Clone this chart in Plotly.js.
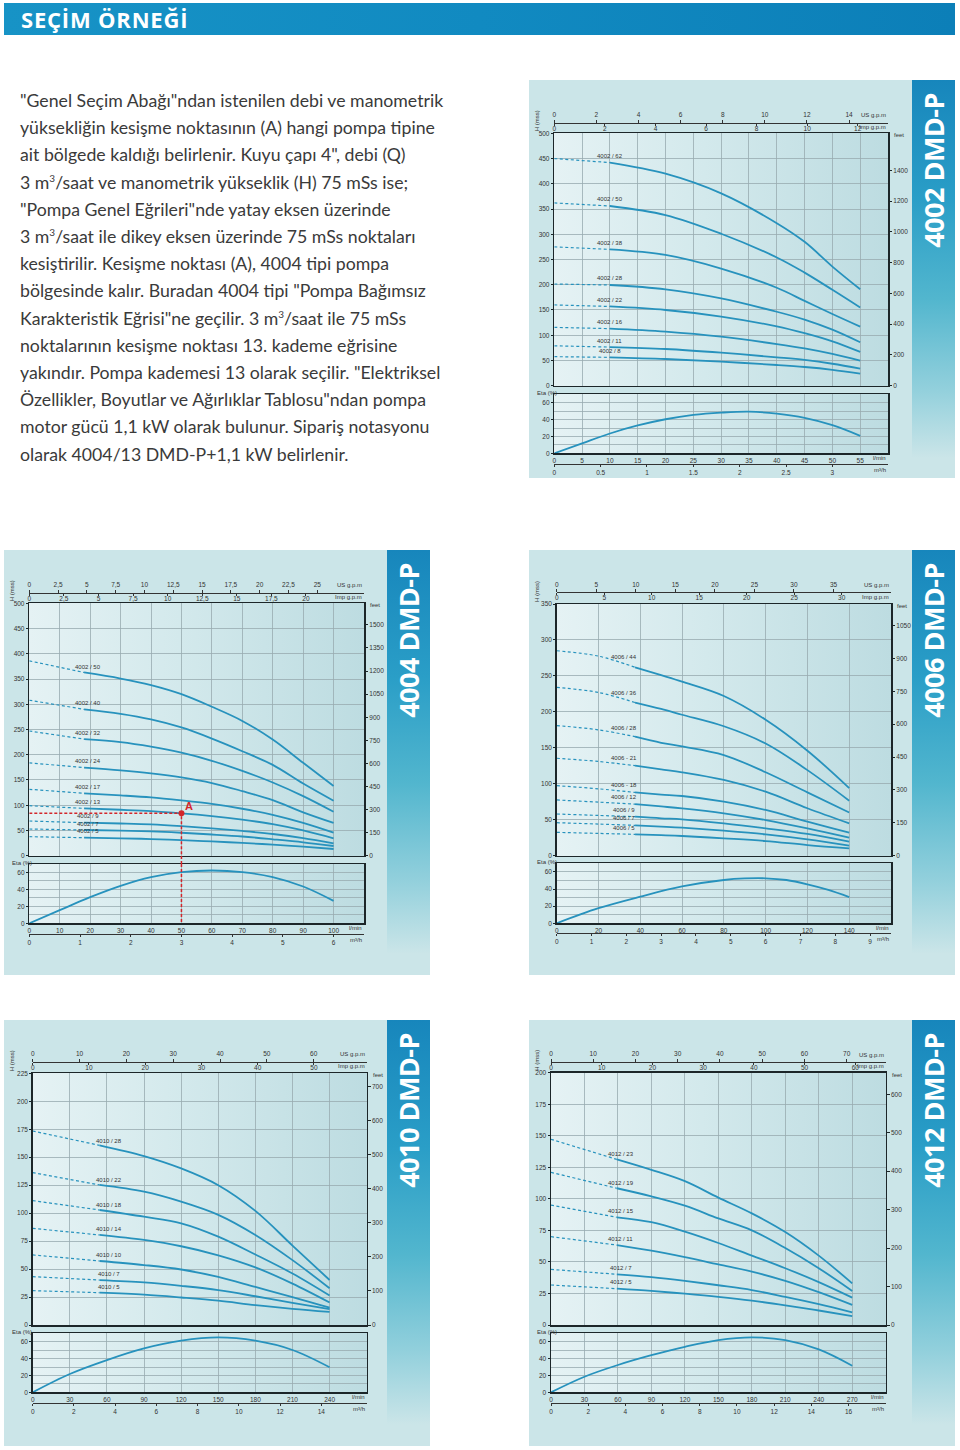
<!DOCTYPE html>
<html lang="tr">
<head>
<meta charset="utf-8">
<title>Seçim Örneği</title>
<script src="https://cdn.plot.ly/plotly-3.0.1.min.js"></script>
<style>
html,body{margin:0;padding:0;background:#fff;}
body{width:960px;height:1450px;position:relative;overflow:hidden;}
#hdr{position:absolute;left:4px;top:3px;width:951px;height:32px;background:linear-gradient(90deg,#1793c6 0%,#118ac1 50%,#0c7fb8 100%);}
#hdr span{position:absolute;left:17px;top:2px;font:700 22px 'Open Sans',sans-serif;letter-spacing:0.8px;color:#fff;line-height:28px;}
#txt{position:absolute;left:20px;top:87px;font:400 17.7px Lato,sans-serif;line-height:27.2px;color:#3a3a3a;white-space:nowrap;}
#txt sup{font-size:10px;vertical-align:7px;line-height:0;}
.panel{position:absolute;background:#cbe5e8;}
.strip{position:absolute;top:0;width:43px;background:linear-gradient(180deg,#1786bc 0%,#2a9ec7 30%,#52b6ce 55%,#93d0dc 78%,#cbe5e8 95%);}
.strip span{position:absolute;left:21.5px;top:13px;transform-origin:0 0;transform:rotate(-90deg) translate(-100%,-50%);white-space:nowrap;font:700 27px 'Open Sans',sans-serif;color:#fff;letter-spacing:-0.5px;line-height:30px;}
.pbg{position:absolute;background:linear-gradient(90deg,#e5f2f4 0%,#d3e9ec 45%,#bddce1 100%);}
.chart{position:absolute;left:0;top:0;}
</style>
</head>
<body>
<div id="hdr"><span>SEÇİM ÖRNEĞİ</span></div>
<div id="txt">"Genel Seçim Abağı"ndan istenilen debi ve manometrik<br>yüksekliğin kesişme noktasının (A) hangi pompa tipine<br>ait bölgede kaldığı belirlenir. Kuyu çapı 4", debi (Q)<br>3 m<sup>3</sup>/saat ve manometrik yükseklik (H) 75 mSs ise;<br>"Pompa Genel Eğrileri"nde yatay eksen üzerinde<br>3 m<sup>3</sup>/saat ile dikey eksen üzerinde 75 mSs noktaları<br>kesiştirilir. Kesişme noktası (A), 4004 tipi pompa<br>bölgesinde kalır. Buradan 4004 tipi "Pompa Bağımsız<br>Karakteristik Eğrisi"ne geçilir. 3 m<sup>3</sup>/saat ile 75 mSs<br>noktalarının kesişme noktası 13. kademe eğrisine<br>yakındır. Pompa kademesi 13 olarak seçilir. "Elektriksel<br>Özellikler, Boyutlar ve Ağırlıklar Tablosu"ndan pompa<br>motor gücü 1,1 kW olarak bulunur. Sipariş notasyonu<br>olarak 4004/13 DMD-P+1,1 kW belirlenir.</div>
<script>
// ---------------- DATA ----------------
// 4002 DMD-P  (flow l/min, head m)
const q4002 = [0, 10, 20, 30, 40, 45, 50, 55];
const h4002_62 = [450, 442, 420, 381, 322, 285, 236, 191];
const h4002_50 = [362, 356, 338, 301, 254, 224, 190, 155];
const h4002_38 = [275, 270, 259, 232, 194, 168, 142, 117];
const h4002_28 = [201.5, 199.5, 191, 173, 146.5, 131, 111, 86];
const h4002_22 = [160, 157, 150, 137, 117.5, 104, 88, 67];
const h4002_16 = [115.5, 113, 107, 97, 82.5, 74, 63, 49.5];
const h4002_11 = [79, 76.5, 72.7, 65.4, 56.2, 51, 43.5, 33.7];
const h4002_8 = [57.5, 56.2, 52.9, 47.6, 41, 37, 31.5, 24];
const names4002 = ['4002 / 62', '4002 / 50', '4002 / 38', '4002 / 28', '4002 / 22', '4002 / 16', '4002 / 11', '4002 / 8'];
const etaQ4002 = [0, 5, 10, 15, 20, 25, 30, 35, 40, 45, 50, 55];
const eta4002 = [0, 11.8, 23.5, 33, 40.4, 45.5, 48.2, 49.4, 47, 42, 33.3, 20.7];
const lmin4002 = [0, 5, 10, 15, 20, 25, 30, 35, 40, 45, 50, 55];
const us4002 = [0, 2, 4, 6, 8, 10, 12, 14];
const imp4002 = [0, 2, 4, 6, 8, 10, 12];
const m3h4002 = [0, 0.5, 1, 1.5, 2, 2.5, 3];
const feet4002 = [0, 200, 400, 600, 800, 1000, 1200, 1400];

// 4004 DMD-P
const q4004 = [0, 18, 30, 40, 50, 60, 70, 80, 90, 100];
const h4004_50 = [386, 363, 351, 338, 320, 295, 267, 230, 184, 138];
const h4004_40 = [308, 290, 281, 270, 254, 232, 207, 180, 143, 109];
const h4004_32 = [247, 231, 225, 216, 204, 188, 168, 145, 118, 87];
const h4004_24 = [184, 174.5, 169, 163, 155, 144, 128, 110, 86, 65];
const h4004_17 = [131.5, 123.6, 119.5, 115.5, 109.5, 102.5, 93, 81, 65, 45.6];
const h4004_13 = [99, 93.8, 91, 88.3, 84, 78.5, 71.5, 62.5, 50, 34.4];
const h4004_9 = [68.7, 65.4, 63.8, 62, 58.5, 54, 49, 43, 35, 24.5];
const h4004_7 = [52.9, 50.9, 49.8, 48.2, 45.5, 42, 38, 32.5, 26.5, 19.2];
const h4004_5 = [37.7, 35.7, 34.5, 33, 31, 28.2, 25.3, 22, 18, 13.3];
const names4004 = ['4002 / 50', '4002 / 40', '4002 / 32', '4002 / 24', '4002 / 17', '4002 / 13', '4002 / 9', '4002 / 7', '4002 / 5'];
const etaQ4004 = [0, 10, 20, 30, 40, 50, 60, 70, 80, 90, 100];
const eta4004 = [0, 15.5, 30.8, 44.2, 54.5, 60.4, 62.3, 60.4, 54.5, 43.4, 26.5];
const lmin4004 = [0, 10, 20, 30, 40, 50, 60, 70, 80, 90, 100];
const us4004 = [0, 2.5, 5, 7.5, 10, 12.5, 15, 17.5, 20, 22.5, 25];
const imp4004 = [0, 2.5, 5, 7.5, 10, 12.5, 15, 17.5, 20];
const m3h4004 = [0, 1, 2, 3, 4, 5, 6];
const feet4004 = [0, 150, 300, 450, 600, 750, 900, 1050, 1200, 1350, 1500];
const pointAQ = [50];
const pointAH = [84];

// 4006 DMD-P
const q4006 = [0, 20, 37.5, 50, 60, 80, 100, 120, 140];
const h4006_44 = [285, 277.5, 262, 251, 242, 222, 189, 146, 94];
const h4006_36 = [234, 227, 213, 204, 196, 180, 156, 119, 76.5];
const h4006_28 = [181, 175, 165.5, 157, 152, 140, 116, 88, 60];
const h4006_21 = [135.5, 131, 125.2, 120, 116, 105.3, 89, 66, 45];
const h4006_18 = [97.4, 93, 88, 85, 83, 75.2, 63.6, 47.4, 32];
const h4006_12 = [77.5, 74.5, 71.7, 68.5, 65.8, 58.9, 49.6, 38, 25.1];
const h4006_9 = [58, 56, 54.3, 52, 50.6, 45, 38, 30.2, 19.5];
const h4006_7 = [45.9, 44, 42.2, 40.5, 39, 34.8, 29.7, 22.7, 14];
const h4006_5 = [32.5, 31, 29.7, 28.5, 27.4, 24.1, 20.4, 14.8, 10.2];
const names4006 = ['4006 / 44', '4006 / 36', '4006 / 28', '4006 - 21', '4006 - 18', '4006 / 12', '4006 / 9', '4006 / 7', '4006 / 5'];
const etaQ4006 = [0, 20, 40, 60, 80, 90, 100, 110, 120, 130, 140];
const eta4006 = [0, 17.6, 31.1, 43, 50.5, 52.3, 52.5, 50.5, 45.5, 39, 30.6];
const lmin4006 = [0, 20, 40, 60, 80, 100, 120, 140];
const us4006 = [0, 5, 10, 15, 20, 25, 30, 35];
const imp4006 = [0, 5, 10, 15, 20, 25, 30];
const m3h4006 = [0, 1, 2, 3, 4, 5, 6, 7, 8, 9];
const feet4006 = [0, 150, 300, 450, 600, 750, 900, 1050];

// 4010 DMD-P
const q4010 = [0, 54, 90, 120, 150, 180, 210, 240];
const h4010_28 = [173.4, 160.6, 151, 140, 125, 102, 71, 40.2];
const h4010_22 = [136.2, 125.2, 119.2, 110.3, 98.5, 80.5, 58, 32.8];
const h4010_18 = [111.2, 102.8, 96.8, 90.9, 79, 63, 46, 26.3];
const h4010_14 = [86.4, 80.5, 76, 70.4, 62.3, 51.5, 37, 20.1];
const h4010_10 = [62.6, 57.2, 53.6, 49.6, 43, 34, 25, 15.5];
const h4010_7 = [43.2, 40.2, 38.1, 35, 31.2, 25.7, 19.8, 14.2];
const h4010_5 = [30.7, 28.9, 27.1, 24.6, 21.7, 17.8, 14.5, 11.7];
const names4010 = ['4010 / 28', '4010 / 22', '4010 / 18', '4010 / 14', '4010 / 10', '4010 / 7', '4010 / 5'];
const etaQ4010 = [0, 30, 60, 90, 120, 150, 180, 210, 240];
const eta4010 = [0, 21.7, 38.2, 52, 61.2, 65.1, 61.2, 50.2, 29.7];
const lmin4010 = [0, 30, 60, 90, 120, 150, 180, 210, 240];
const us4010 = [0, 10, 20, 30, 40, 50, 60];
const imp4010 = [0, 10, 20, 30, 40, 50];
const m3h4010 = [0, 2, 4, 6, 8, 10, 12, 14];
const feet4010 = [0, 100, 200, 300, 400, 500, 600, 700];

// 4012 DMD-P
const q4012 = [0, 59, 90, 120, 150, 180, 210, 240, 270];
const h4012_23 = [147.2, 131.3, 123, 114, 101, 88.5, 73.7, 55, 33];
const h4012_19 = [121, 108.4, 102, 94.6, 84.5, 75, 61, 45, 27];
const h4012_15 = [95.1, 85.4, 81.5, 74, 65, 55, 45, 34, 21.7];
const h4012_11 = [70, 63.4, 59, 53.8, 48, 42.3, 35, 26, 15.9];
const h4012_7 = [44.1, 40.2, 38, 35, 31.5, 27.7, 22.3, 16.5, 10];
const h4012_5 = [31.7, 28.8, 27, 24.8, 22.3, 19.3, 15.6, 11.5, 7.1];
const names4012 = ['4012 / 23', '4012 / 19', '4012 / 15', '4012 / 11', '4012 / 7', '4012 / 5'];
const etaQ4012 = [0, 30, 60, 90, 120, 150, 180, 210, 240, 270];
const eta4012 = [0, 18.5, 32.4, 44, 54, 62, 65.2, 62, 50.9, 31.6];
const lmin4012 = [0, 30, 60, 90, 120, 150, 180, 210, 240, 270];
const us4012 = [0, 10, 20, 30, 40, 50, 60, 70];
const imp4012 = [0, 10, 20, 30, 40, 50, 60];
const m3h4012 = [0, 2, 4, 6, 8, 10, 12, 14, 16];
const feet4012 = [0, 100, 200, 300, 400, 500, 600];

// ---------------- STYLE / LAYOUT ----------------
const FONT = '"Liberation Sans", Arial, sans-serif';
const CURVE = '#2792bd';
const GRID = '#98abb0';
const BOX = '#1c2629';
const TXT = '#333';
const RED = '#d3262b';

const panels = [
  {title:'4002 DMD-P', left:529, top:80, w:383, h:398, x0:554.3, x1:888, hT:133.3, hB:385.7, eT:394.3, eB:453.3, axT:123, m3:464,
   qMax:60, qStep:5, hMax:500, hStep:50, dec:'.', feet:feet4002,
   q:q4002, curves:[h4002_62,h4002_50,h4002_38,h4002_28,h4002_22,h4002_16,h4002_11,h4002_8], names:names4002, solid:10, labelQ:10,
   etaQ:etaQ4002, eta:eta4002, lmin:lmin4002, us:us4002, imp:imp4002, m3t:m3h4002},
  {title:'4004 DMD-P', left:4, top:550, w:383, h:425, x0:29.3, x1:364, hT:603.3, hB:855.7, eT:864, eB:923.3, axT:592.7, m3:934,
   qMax:110, qStep:10, hMax:500, hStep:50, dec:',', feet:feet4004,
   q:q4004, curves:[h4004_50,h4004_40,h4004_32,h4004_24,h4004_17,h4004_13,h4004_9,h4004_7,h4004_5], names:names4004, solid:18, labelQ:19.3,
   etaQ:etaQ4004, eta:eta4004, lmin:lmin4004, us:us4004, imp:imp4004, m3t:m3h4004, pointA:true},
  {title:'4006 DMD-P', left:529, top:550, w:383, h:425, x0:556.7, x1:891, hT:604, hB:855.7, eT:863.3, eB:923.3, axT:592.3, m3:933.3,
   qMax:160, qStep:20, hMax:350, hStep:50, dec:'.', feet:feet4006,
   q:q4006, curves:[h4006_44,h4006_36,h4006_28,h4006_21,h4006_18,h4006_12,h4006_9,h4006_7,h4006_5], names:names4006, solid:37.5, labelQ:32,
   etaQ:etaQ4006, eta:eta4006, lmin:lmin4006, us:us4006, imp:imp4006, m3t:m3h4006},
  {title:'4010 DMD-P', left:4, top:1020, w:383, h:426, x0:32.7, x1:366.7, hT:1073.3, hB:1325, eT:1333.3, eB:1392.3, axT:1061.7, m3:1402.7,
   qMax:270, qStep:30, hMax:225, hStep:25, dec:'.', feet:feet4010,
   q:q4010, curves:[h4010_28,h4010_22,h4010_18,h4010_14,h4010_10,h4010_7,h4010_5], names:names4010, solid:54, labelQ:61.5,
   etaQ:etaQ4010, eta:eta4010, lmin:lmin4010, us:us4010, imp:imp4010, m3t:m3h4010},
  {title:'4012 DMD-P', left:529, top:1020, w:383, h:426, x0:551, x1:885.7, hT:1072.7, hB:1325, eT:1333.3, eB:1392.3, axT:1062, m3:1403.3,
   qMax:300, qStep:30, hMax:200, hStep:25, dec:'.', feet:feet4012,
   q:q4012, curves:[h4012_23,h4012_19,h4012_15,h4012_11,h4012_7,h4012_5], names:names4012, solid:59, labelQ:62.7,
   etaQ:etaQ4012, eta:eta4012, lmin:lmin4012, us:us4012, imp:imp4012, m3t:m3h4012}
];

function interp(xs, ys, x) {
  for (let i = 0; i < xs.length - 1; i++) {
    if (x >= xs[i] && x <= xs[i+1]) {
      const t = (x - xs[i]) / (xs[i+1] - xs[i]);
      return ys[i] + t * (ys[i+1] - ys[i]);
    }
  }
  return ys[ys.length - 1];
}
const fmt = (arr, dec) => arr.map(v => String(v).replace('.', dec));

function buildPanel(p) {
  const fx = px => (px - p.left) / p.w;
  const fy = py => 1 - (py - p.top) / p.h;

  const panel = document.createElement('div');
  panel.className = 'panel';
  panel.style.cssText = `left:${p.left}px;top:${p.top}px;width:${p.w + 43}px;height:${p.h}px;`;
  const strip = document.createElement('div');
  strip.className = 'strip';
  strip.style.cssText = `left:${p.w}px;height:${p.h}px;`;
  strip.innerHTML = `<span>${p.title}</span>`;
  panel.appendChild(strip);
  [[p.hT, p.hB], [p.eT, p.eB]].forEach(([t, b]) => {
    const bg = document.createElement('div');
    bg.className = 'pbg';
    bg.style.cssText = `left:${p.x0 - p.left}px;top:${t - p.top}px;width:${p.x1 - p.x0}px;height:${b - t}px;`;
    panel.appendChild(bg);
  });
  const chart = document.createElement('div');
  chart.className = 'chart';
  chart.style.cssText = `width:${p.w}px;height:${p.h}px;`;
  panel.appendChild(chart);
  document.body.appendChild(panel);

  const dx = [fx(p.x0), fx(p.x1)];
  const dh = [fy(p.hB), fy(p.hT)];
  const de = [fy(p.eB), fy(p.eT)];

  const traces = [];
  const iS = p.q.indexOf(p.solid);
  p.curves.forEach(hs => {
    traces.push({type:'scatter', mode:'lines', x:p.q.slice(0, iS + 1), y:hs.slice(0, iS + 1), xaxis:'x', yaxis:'y',
      line:{color:CURVE, width:1.2, dash:'3px,2.5px', shape:'spline'}, hoverinfo:'skip'});
    traces.push({type:'scatter', mode:'lines', x:p.q.slice(iS), y:hs.slice(iS), xaxis:'x', yaxis:'y',
      line:{color:CURVE, width:1.8, shape:'spline'}, hoverinfo:'skip'});
  });
  traces.push({type:'scatter', mode:'lines', x:p.etaQ, y:p.eta, xaxis:'x2', yaxis:'y2',
    line:{color:CURVE, width:1.8, shape:'spline'}, hoverinfo:'skip'});
  // helpers that activate the secondary scales
  const ghost = {type:'scatter', mode:'markers', marker:{opacity:0, size:1}, hoverinfo:'skip'};
  traces.push({...ghost, x:[0], y:[0], xaxis:'x', yaxis:'y3'});
  traces.push({...ghost, x:[0], y:[0], xaxis:'x3', yaxis:'y'});
  traces.push({...ghost, x:[0], y:[0], xaxis:'x4', yaxis:'y'});
  traces.push({...ghost, x:[0], y:[0], xaxis:'x5', yaxis:'y2'});

  const shapes = [];
  if (p.pointA) {
    traces.push({type:'scatter', mode:'lines', x:[0, pointAQ[0], pointAQ[0]], y:[pointAH[0], pointAH[0], 0], xaxis:'x', yaxis:'y',
      line:{color:RED, width:1.5, dash:'3px,2px'}, hoverinfo:'skip'});
    traces.push({type:'scatter', mode:'lines', x:[pointAQ[0], pointAQ[0]], y:[70, 0], xaxis:'x2', yaxis:'y2',
      line:{color:RED, width:1.5, dash:'3px,2px'}, hoverinfo:'skip'});
    traces.push({type:'scatter', mode:'markers', x:pointAQ, y:pointAH, xaxis:'x', yaxis:'y',
      marker:{color:RED, size:6}, hoverinfo:'skip'});
    shapes.push({type:'line', xref:'x', yref:'paper', x0:pointAQ[0], x1:pointAQ[0], y0:de[1], y1:dh[0],
      line:{color:RED, width:1.5, dash:'3px,2px'}});
  }

  const ann = [];
  const small = {size:6, color:TXT, family:FONT};
  const addP = (text, px, py, xanchor, extra) => ann.push(Object.assign({xref:'paper', yref:'paper', x:fx(px), y:fy(py), text,
    showarrow:false, xanchor, yanchor:'middle', font:small}, extra || {}));
  addP('US g.p.m', p.x1, p.axT - 7.5, 'right');
  addP('Imp g.p.m', p.x1, p.axT + 4.5, 'right');
  addP('feet', p.x1 + 4, p.hT + 2, 'left');
  addP('l/min', p.x1, p.eB + 5, 'right');
  addP('m³/h', p.x1, p.m3 + 6, 'right');
  addP('H (mss)', p.left + 8, p.hT - 12, 'center', {textangle:-90});
  addP('Eta (%)', p.left + 6, p.eT - 1, 'left');
  p.curves.forEach((hs, i) => ann.push({xref:'x', yref:'y', x:p.labelQ, y:interp(p.q, hs, p.labelQ), yshift:1.5,
    text:p.names[i], showarrow:false, xanchor:'center', yanchor:'bottom', font:small}));
  if (p.pointA) {
    ann.push({xref:'x', yref:'y', x:pointAQ[0], y:pointAH[0], text:'A', showarrow:false, xanchor:'left', yanchor:'bottom',
      xshift:2, yshift:-1, font:{size:11, color:RED, family:FONT, weight:'bold'}});
  }

  const common = {zeroline:false, fixedrange:true, tickfont:{size:6.5, color:TXT, family:FONT}};
  const boxAx = Object.assign({}, common, {showgrid:true, gridcolor:GRID, gridwidth:0.8, showline:true, mirror:true, linecolor:BOX, linewidth:1.5});

  const layout = {
    width:p.w, height:p.h, margin:{l:0, r:0, t:0, b:0}, autosize:false,
    paper_bgcolor:'rgba(0,0,0,0)', plot_bgcolor:'rgba(0,0,0,0)', showlegend:false,
    font:{family:FONT, size:6.5, color:TXT},
    xaxis:Object.assign({}, boxAx, {domain:dx, anchor:'y', range:[0, p.qMax], tickmode:'linear', tick0:0, dtick:p.qStep, showticklabels:false, ticks:''}),
    yaxis:Object.assign({}, boxAx, {domain:dh, anchor:'x', range:[0, p.hMax], tickmode:'linear', tick0:0, dtick:p.hStep, ticks:'outside', ticklen:2, tickcolor:BOX}),
    yaxis3:Object.assign({}, common, {overlaying:'y', anchor:'x', side:'right', range:[0, p.hMax * 3.28084], tickmode:'array', tickvals:p.feet,
      ticks:'outside', ticklen:3, tickcolor:BOX, showgrid:false, showline:false}),
    xaxis2:Object.assign({}, boxAx, {domain:dx, anchor:'y2', range:[0, p.qMax], tickmode:'array', tickvals:p.lmin, ticktext:fmt(p.lmin, p.dec), ticks:''}),
    yaxis2:Object.assign({}, boxAx, {domain:de, anchor:'x2', range:[0, 70], tickmode:'linear', tick0:0, dtick:20,
      ticks:'outside', ticklen:2, tickcolor:BOX,
      minor:{tickmode:'linear', tick0:0, dtick:10, showgrid:true, gridcolor:GRID, gridwidth:0.8, ticks:''}}),
    xaxis3:Object.assign({}, common, {overlaying:'x', anchor:'free', position:fy(p.axT), side:'top', range:[0, p.qMax / 3.7854],
      tickmode:'array', tickvals:p.us, ticktext:fmt(p.us, p.dec), ticks:'outside', ticklen:3, tickcolor:'#333',
      showline:true, linecolor:'#333', linewidth:1, showgrid:false}),
    xaxis4:Object.assign({}, common, {overlaying:'x', anchor:'free', position:fy(p.axT), side:'bottom', range:[0, p.qMax / 4.5461],
      tickmode:'array', tickvals:p.imp, ticktext:fmt(p.imp, p.dec), ticks:'outside', ticklen:2, tickcolor:'#333',
      ticklabelstandoff:-3, showline:false, showgrid:false}),
    xaxis5:Object.assign({}, common, {overlaying:'x2', anchor:'free', position:fy(p.m3), side:'bottom', range:[0, p.qMax * 0.06],
      tickmode:'array', tickvals:p.m3t, ticktext:fmt(p.m3t, '.'), ticks:'outside', ticklen:2, tickcolor:'#333',
      showline:true, linecolor:'#333', linewidth:1, showgrid:false}),
    annotations:ann,
    shapes:shapes
  };
  Plotly.newPlot(chart, traces, layout, {staticPlot:true, displayModeBar:false});
}

panels.forEach(buildPanel);
</script>
</body>
</html>
